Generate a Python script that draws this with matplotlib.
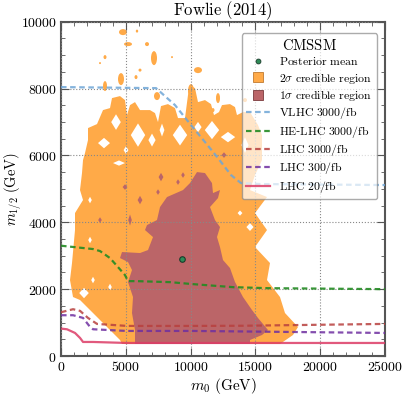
import matplotlib
matplotlib.use("Agg")
import matplotlib.pyplot as plt
from matplotlib.patches import Polygon, Ellipse
from matplotlib.lines import Line2D
from matplotlib.ticker import FuncFormatter, MultipleLocator
import numpy as np

plt.rcParams['mathtext.fontset'] = 'cm'
plt.rcParams['font.family'] = ['DejaVu Serif']

# ---------------- data ----------------
# 2 sigma credible region outline (m0, m1/2) in GeV
two_sigma_m0 = [4707, 4552, 3781, 3009, 2238, 1466, 926, 694, 849, 1080, 1080, 1698, 1466, 1620,
                1698, 1852, 2083, 2083, 2778, 3241, 3781, 3935, 4552, 4938, 5093, 5324, 5710,
                6096, 6867, 7253, 7485, 7716, 8256, 8796, 9028, 9568, 9799, 10031, 10340, 10571,
                11111, 11574, 11806, 12191, 12423, 13040, 13426, 13580, 14043, 14583, 15201,
                15509, 15509, 14969, 14583, 15895, 14969, 15895, 14969, 16127, 15895, 16898,
                17284, 18287, 17901, 16898]
two_sigma_m12 = [359, 479, 778, 1077, 1376, 1675, 1765, 2273, 2782, 3769, 4277, 4666, 4965, 5474,
                 5862, 6072, 6461, 6820, 6939, 7358, 7418, 7717, 7777, 7657, 7208, 7507, 7597,
                 7358, 7358, 7268, 6999, 7478, 7537, 7418, 7119, 7119, 7807, 8076, 8016, 7597,
                 7657, 7537, 7208, 7298, 7507, 7537, 7448, 7208, 7298, 7298, 6909,
                 6610, 5862, 5414, 4965, 4756, 4277, 3769, 3260, 2782, 2273, 1765,
                 1286, 867, 628, 359]

# isolated 2 sigma islands: centre m0, centre m1/2, width, height
island_m0 = [4784, 5864, 5170, 6636, 7176, 3395, 3009, 4630, 6096, 5787, 10571, 8565, 3395,
             10031, 7407, 12114, 11728, 14197]
island_m12 = [9691, 9721, 9332, 9332, 8913, 8943, 8764, 8285, 8554, 8345, 8554, 8943, 8076,
              7926, 7777, 7717, 7358, 7657]
island_w = [617, 185, 617, 309, 463, 231, 154, 463, 231, 231, 617, 154, 309, 463, 463, 309, 231, 309]
island_h = [180, 90, 120, 120, 419, 120, 60, 359, 90, 120, 180, 60, 299, 419, 239, 299, 120, 120]

# gaps inside the 2 sigma region
gap_m0 = [3318, 5941, 9182, 11651, 12886, 4475, 7022, 4244, 2238, 2238, 2469, 3781, 1775,
          14583, 13812, 10571, 14197, 7793, 5016]
gap_m12 = [6371, 6610, 6610, 6760, 6550, 5773, 6461, 6999, 4666, 3470, 2273, 2064, 1884,
           3858, 4277, 6849, 6311, 6760, 6161]
gap_w = [772, 926, 926, 926, 926, 772, 463, 617, 231, 231, 231, 231, 617, 463, 309, 463, 463, 309, 309]
gap_h = [239, 538, 479, 419, 239, 120, 299, 359, 150, 150, 150, 150, 239, 180, 120, 239, 359, 299, 180]

# 1 sigma credible region outline
one_sigma_m0 = [10494, 11111, 11651, 11728, 12268, 12114, 11497, 11882, 12268, 12037, 12268,
                12500, 13040, 13426, 14043, 14738, 15201, 15972, 15509, 14583, 14583, 5710,
                5710, 5478, 5556, 5170, 5478, 5170, 4552, 4707, 6096, 6713, 7099, 6481, 6636,
                7407, 7639, 8179, 9414, 9954]
one_sigma_m12 = [5503, 5474, 5174, 4875, 4965, 4726, 4457, 4068, 3858, 3559, 3260,
                 2871, 2632, 2213, 1765, 1376, 1137, 778, 628, 479, 360, 360,
                 778, 1286, 1765, 2213, 2572, 2812, 2931, 3111, 3081, 3170, 3559, 3769, 3918,
                 4068, 4457, 4756, 4965, 5174]
# small 1 sigma islands
spot_m0 = [4938, 6096, 5324, 7716, 9028, 12577, 3009, 7485, 9414]
spot_m12 = [5055, 4666, 4068, 5354, 5204, 6012, 4068, 4905, 5414]
spot_w = [309, 309, 231, 309, 231, 309, 231, 231, 231]
spot_h = [120, 180, 239, 180, 120, 120, 120, 120, 120]

posterior_mean = (9340, 2900)

vlhc_m0 = [0, 6867, 7330, 8796, 10031, 11111, 12114, 13117, 13889, 15355, 25000]
vlhc_m12 = [8046, 8016, 8016, 7507, 6909, 6401, 5922, 5414, 5174, 5145, 5115]
helhc_m0 = [0, 2470, 3010, 3780, 4400, 4940, 5170, 5860, 8410, 10190, 13270, 15900, 25000]
helhc_m12 = [3300, 3200, 3140, 2930, 2660, 2420, 2240, 2240, 2210, 2150, 2060, 2030, 2000]
lhc3000_m0 = [0, 930, 1470, 2080, 2780, 5090, 10190, 14040, 25000]
lhc3000_m12 = [1310, 1400, 1350, 1140, 960, 900, 900, 905, 960]
lhc300_m0 = [0, 930, 1700, 2240, 2470, 5090, 10190, 25000]
lhc300_m12 = [1220, 1220, 1140, 870, 800, 750, 750, 690]
lhc20_m0 = [0, 460, 1080, 1470, 1700, 2470, 5090, 25000]
lhc20_m12 = [820, 800, 690, 540, 420, 420, 390, 390]

x_ticks = [0, 5000, 10000, 15000, 20000, 25000]
y_ticks = [0, 2000, 4000, 6000, 8000, 10000]

# ---------------- style ----------------
C2 = '#ffaa48'
C1 = '#bb6568'


def diamond(x, y, w, h):
    return [(x - w / 2, y), (x, y + h / 2), (x + w / 2, y), (x, y - h / 2)]


fig = plt.figure(figsize=(4.07, 3.96), dpi=100)
ax = fig.add_axes([0.1499, 0.101, 0.796, 0.844])

ax.add_patch(Polygon(np.column_stack([two_sigma_m0, two_sigma_m12]), closed=True,
                     facecolor=C2, edgecolor='none', zorder=1))
for x, y, w, h in zip(island_m0, island_m12, island_w, island_h):
    ax.add_patch(Ellipse((x, y), w, h, facecolor=C2, edgecolor='none', zorder=1))
for x, y, w, h in zip(gap_m0, gap_m12, gap_w, gap_h):
    ax.add_patch(Polygon(diamond(x, y, w * 1.2, h * 1.3), closed=True,
                         facecolor='white', edgecolor='none', zorder=1.5))
ax.add_patch(Polygon(np.column_stack([one_sigma_m0, one_sigma_m12]), closed=True,
                     facecolor=C1, edgecolor='none', zorder=2))
for x, y, w, h in zip(spot_m0, spot_m12, spot_w, spot_h):
    ax.add_patch(Polygon(diamond(x, y, w * 1.2, h * 1.4), closed=True,
                         facecolor=C1, edgecolor='none', zorder=2))

ls = (0, (2.5, 1.6))
ax.plot(vlhc_m0, vlhc_m12, color='#6fa6d6', lw=1.6, ls=ls, alpha=0.85, zorder=4)
ax.plot(helhc_m0, helhc_m12, color='#238b23', lw=1.6, ls=ls, alpha=0.9, zorder=4)
ax.plot(lhc3000_m0, lhc3000_m12, color='#b8403e', lw=1.6, ls=ls, alpha=0.85, zorder=4)
ax.plot(lhc300_m0, lhc300_m12, color='#6f2fa0', lw=1.6, ls=ls, alpha=0.85, zorder=4)
ax.plot(lhc20_m0, lhc20_m12, color='#dc3c66', lw=1.6, ls='-', alpha=0.85, zorder=4)
ax.plot([posterior_mean[0]], [posterior_mean[1]], 'o', ms=4, mfc='#2e8b57', mec='#1a3a2a',
        mew=0.8, zorder=5)

ax.set_xlim(0, 25000)
ax.set_ylim(0, 10000)
ax.set_xticks(x_ticks)
ax.set_yticks(y_ticks)
ax.xaxis.set_minor_locator(MultipleLocator(1000))
ax.yaxis.set_minor_locator(MultipleLocator(500))
fmt = FuncFormatter(lambda v, p: r'$%d$' % int(round(v)))
ax.xaxis.set_major_formatter(fmt)
ax.yaxis.set_major_formatter(fmt)
ax.tick_params(which='both', direction='in', top=True, right=True, color='#555555',
               labelsize=10, pad=3)
ax.tick_params(which='major', length=6, width=0.8)
ax.tick_params(which='minor', length=3, width=0.6)
for s in ax.spines.values():
    s.set_color('#555555')
    s.set_linewidth(1.5)
ax.grid(True, which='major', color='#888888', ls=':', lw=0.8, zorder=3)
ax.set_axisbelow(False)

ax.set_xlabel(r'$m_0\ \mathrm{(GeV)}$', fontsize=11, labelpad=1)
ax.set_ylabel(r'$m_{1/2}\ \mathrm{(GeV)}$', fontsize=10.5)
ax.yaxis.set_label_coords(-0.115, 0.5)
ax.set_title(r'$\mathrm{Fowlie\ (2014)}$', fontsize=12, pad=3)

handles = [
    Line2D([], [], ls='none', marker='o', ms=3.5, mfc='#2e8b57', mec='#1a3a2a', mew=0.6),
    Line2D([], [], ls='none', marker='s', ms=7.5, mfc=C2, mec='#c07a30', mew=0.6),
    Line2D([], [], ls='none', marker='s', ms=7.5, mfc=C1, mec='#7a3a3c', mew=0.6),
    Line2D([], [], color='#6fa6d6', lw=1.6, ls=ls, alpha=0.85),
    Line2D([], [], color='#238b23', lw=1.6, ls=ls, alpha=0.9),
    Line2D([], [], color='#b8403e', lw=1.6, ls=ls, alpha=0.85),
    Line2D([], [], color='#6f2fa0', lw=1.6, ls=ls, alpha=0.85),
    Line2D([], [], color='#dc3c66', lw=1.6, ls='-', alpha=0.85),
]
labels = [r'$\mathrm{Posterior\ mean}$', r'$2\sigma\ \mathrm{credible\ region}$',
          r'$1\sigma\ \mathrm{credible\ region}$', r'$\mathrm{VLHC\ 3000/fb}$',
          r'$\mathrm{HE}$-$\mathrm{LHC\ 3000/fb}$', r'$\mathrm{LHC\ 3000/fb}$',
          r'$\mathrm{LHC\ 300/fb}$', r'$\mathrm{LHC\ 20/fb}$']
leg = ax.legend(handles, labels, loc='upper right', bbox_to_anchor=(0.975, 0.966),
                borderaxespad=0, fontsize=8.5, title=r'$\mathrm{CMSSM}$', title_fontsize=10.5,
                framealpha=0.7, fancybox=True, edgecolor='#888888', labelspacing=0.2,
                handlelength=2.0, handletextpad=0.8, borderpad=0.4)
leg.set_zorder(6)
leg.get_frame().set_linewidth(1.0)

fig.savefig('out.png', dpi=100)
